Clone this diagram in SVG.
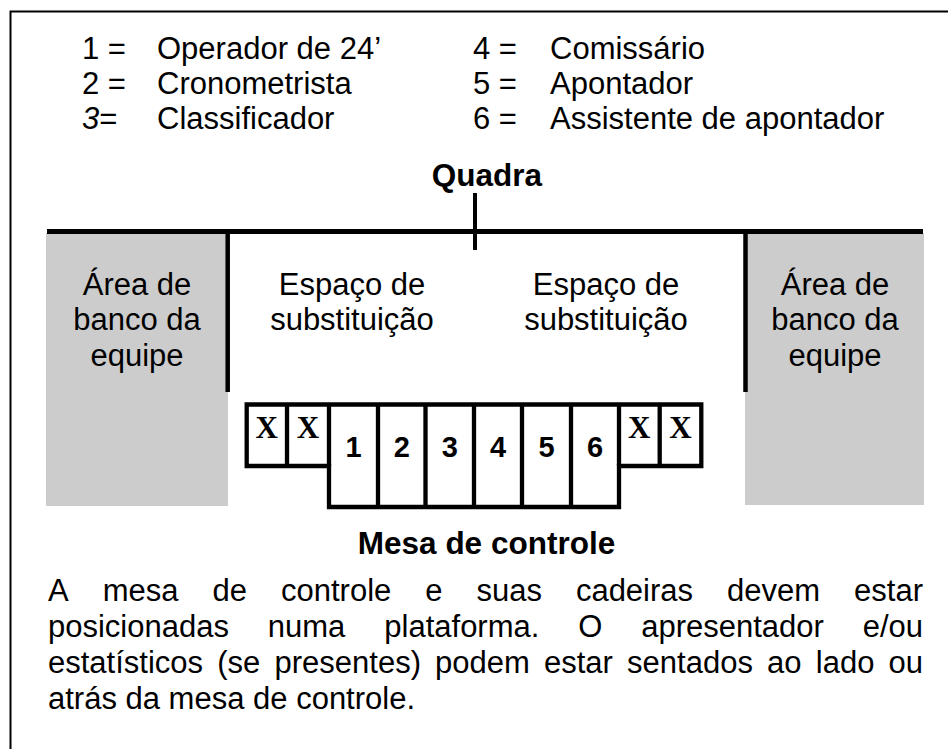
<svg xmlns="http://www.w3.org/2000/svg" width="948" height="749" viewBox="0 0 948 749">
<style>
  .t { font-family: "Liberation Sans", Arial, sans-serif; font-size: 31px; fill: #000; }
  .b { font-family: "Liberation Sans", Arial, sans-serif; font-size: 31.5px; font-weight: bold; fill: #000; }
  .c { text-anchor: middle; }
  .e { text-anchor: end; }
  .num { font-family: "Liberation Sans", Arial, sans-serif; font-size: 29px; font-weight: bold; text-anchor: middle; fill: #000; }
  .x { font-family: "Liberation Serif", "Times New Roman", serif; font-size: 31px; font-weight: bold; text-anchor: middle; fill: #000; }
  .gray { fill: #cccccc; }
  .ln { stroke: #000; fill: none; }
</style>
<rect width="948" height="749" fill="#ffffff"/>
<!-- frame -->
<path class="ln" d="M10.5,749 V11.5 H948" stroke-width="2"/>

<g id="legend">
  <text class="t" x="82" y="59">1 =</text>
  <text class="t" x="157" y="59">Operador de 24’</text>
  <text class="t" x="82" y="94">2 =</text>
  <text class="t" x="157" y="94">Cronometrista</text>
  <text class="t" x="82" y="129"><tspan font-style="italic">3</tspan>=</text>
  <text class="t" x="157" y="129">Classificador</text>
  <text class="t" x="473" y="59">4 =</text>
  <text class="t" x="550" y="59">Comissário</text>
  <text class="t" x="473" y="94">5 =</text>
  <text class="t" x="550" y="94">Apontador</text>
  <text class="t" x="473" y="129">6 =</text>
  <text class="t" x="550" y="129">Assistente de apontador</text>
</g>

<g id="quadra">
  <text class="b c" x="487" y="186">Quadra</text>
</g>

<g id="bench-left">
  <rect class="gray" x="46" y="233" width="182" height="273"/>
  <text class="t c" x="137" y="295">Área de</text>
  <text class="t c" x="137" y="330">banco da</text>
  <text class="t c" x="137" y="366">equipe</text>
</g>

<g id="bench-right">
  <rect class="gray" x="745" y="233" width="179" height="272"/>
  <text class="t c" x="835" y="295">Área de</text>
  <text class="t c" x="835" y="330">banco da</text>
  <text class="t c" x="835" y="366">equipe</text>
</g>

<g id="sub-left">
  <text class="t c" x="352" y="295">Espaço de</text>
  <text class="t c" x="352" y="330">substituição</text>
</g>

<g id="sub-right">
  <text class="t c" x="606" y="295">Espaço de</text>
  <text class="t c" x="606" y="330">substituição</text>
</g>

<g id="connectors">
  <line class="ln" x1="47" y1="231.5" x2="923" y2="231.5" stroke-width="5"/>
  <line class="ln" x1="475" y1="193" x2="475" y2="250" stroke-width="4"/>
  <line class="ln" x1="227.7" y1="231" x2="227.7" y2="392" stroke-width="4.5"/>
  <line class="ln" x1="745.5" y1="231" x2="745.5" y2="392" stroke-width="4.5"/>
</g>

<g id="table">
  <path class="ln" stroke-width="4.3" stroke-linejoin="miter" d="M246.7,404.5 H701.3 V466 H619 V507 H329 V466 H246.7 Z"/>
  <path class="ln" stroke-width="4.3" d="M287,404.5 V466 M329,404.5 V466 M378,404.5 V507 M425.5,404.5 V507 M474,404.5 V507 M522,404.5 V507 M571,404.5 V507 M619,404.5 V466 M659.7,404.5 V466"/>
  <text class="x" x="266.8" y="438">X</text>
  <text class="x" x="308" y="438">X</text>
  <text class="x" x="639.3" y="438">X</text>
  <text class="x" x="680.5" y="438">X</text>
  <text class="num" x="353.5" y="457">1</text>
  <text class="num" x="401.7" y="457">2</text>
  <text class="num" x="449.7" y="457">3</text>
  <text class="num" x="498" y="457">4</text>
  <text class="num" x="546.5" y="457">5</text>
  <text class="num" x="595" y="457">6</text>
</g>

<g id="mesa-label">
  <text class="b c" x="486.5" y="554">Mesa de controle</text>
</g>

<g id="note">
  <text class="t" y="601"><tspan x="48">A</tspan><tspan x="102.7">mesa</tspan><tspan x="212.5">de</tspan><tspan x="281">controle</tspan><tspan x="425.2">e</tspan><tspan x="476.5">suas</tspan><tspan x="575.9">cadeiras</tspan><tspan x="727.1">devem</tspan></text>
  <text class="t e" x="923" y="601">estar</text>
  <text class="t" y="637"><tspan x="48">posicionadas</tspan><tspan x="267.8">numa</tspan><tspan x="384.3">plataforma.</tspan><tspan x="578.2">O</tspan><tspan x="641.2">apresentador</tspan></text>
  <text class="t e" x="923" y="637">e/ou</text>
  <text class="t" y="673"><tspan x="48">estatísticos</tspan><tspan x="217.2">(se</tspan><tspan x="274.5">presentes)</tspan><tspan x="435.1">podem</tspan><tspan x="544">estar</tspan><tspan x="627.1">sentados</tspan><tspan x="767.1">ao</tspan><tspan x="815.8">lado</tspan></text>
  <text class="t e" x="923" y="673">ou</text>
  <text class="t" x="48" y="709">atrás da mesa de controle.</text>
</g>
</svg>
